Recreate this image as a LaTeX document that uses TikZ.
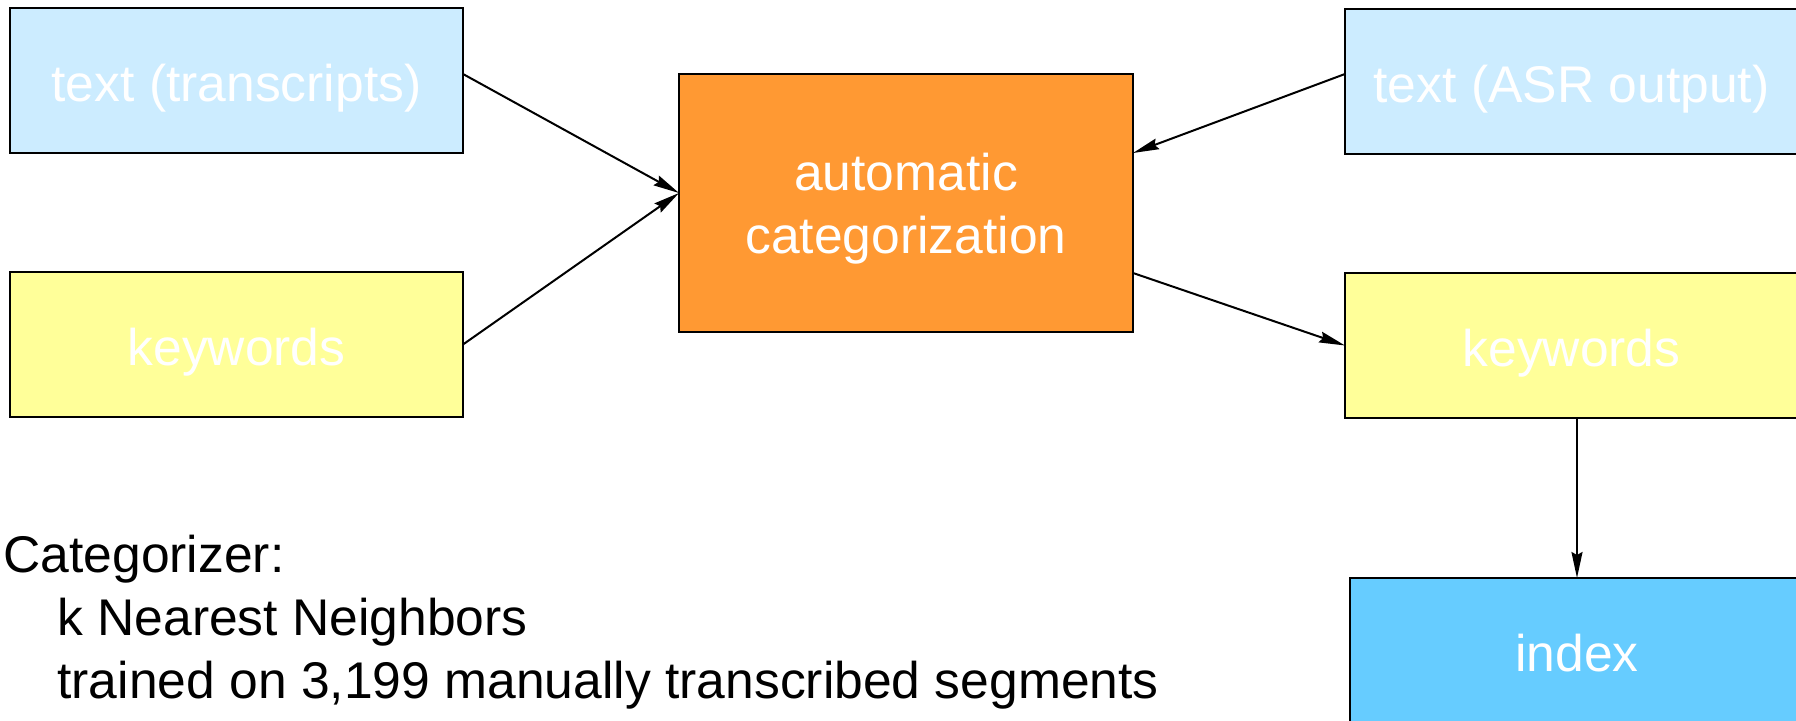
\documentclass[tikz,border=0pt]{standalone}
\usepackage{fontspec}
\setmainfont{Liberation Sans}
\usetikzlibrary{arrows.meta}
\definecolor{paleblue}{HTML}{CCECFF}
\definecolor{paleyellow}{HTML}{FFFF99}
\definecolor{boxorange}{HTML}{FF9933}
\definecolor{skyblue}{HTML}{66CCFF}
\begin{document}
\begin{tikzpicture}[x=0.5pt,y=-0.5pt,
  every node/.style={font=\fontsize{25.8pt}{31.5pt}\selectfont},
  panel/.style={draw=black, line width=0.85pt, inner sep=0pt, outer sep=0pt,
    text=white, minimum width=226.5pt, minimum height=72.5pt},
  oneline/.style={panel, text height=26pt, text depth=5pt},
  conn/.style={line width=1pt, -{Stealth[length=13pt,width=5.5pt,inset=1.5pt]}},
  note/.style={anchor=base west, inner sep=0pt, text=black}]
\useasboundingbox (0,0) rectangle (1796,721);
\fill[white] (0,0) rectangle (1796,721);
\clip (0,0) rectangle (1796,721);

% inputs on the left
\node[oneline, fill=paleblue]   (trans) at (236.5,80.5)  {text (transcripts)};
\node[oneline, fill=paleyellow] (kwin)  at (236.5,344.5) {keywords\hspace{0.278em}};

% categorizer in the middle
\node[panel, fill=boxorange, minimum width=227pt, minimum height=129.3pt,
      align=center, text depth=0pt] (cat) at (906,203) {automatic\\categorization};

% right column
\node[oneline, fill=paleblue]   (asr)   at (1571.5,81.5)  {text (ASR output)};
\node[oneline, fill=paleyellow] (kwout) at (1571.5,345.5) {keywords\hspace{0.278em}};
\node[oneline, fill=skyblue, minimum width=227pt] (idx) at (1577,650.5) {index};

% connectors
\coordinate (cin) at ([yshift=5pt]cat.west);
\draw[conn] ([yshift=3.25pt]trans.east) -- (cin);
\draw[conn] (kwin.east) -- (cin);
\draw[conn] ([yshift=3.75pt]asr.west) -- ([yshift=25pt]cat.east);
\draw[conn] ([yshift=-35pt]cat.east) -- (kwout.west);
\draw[conn] (idx.north |- kwout.south) -- (idx.north);

% notes
\node[note] (cz)  at (3,573)  {Categorizer:};
\node[note] (knn) at (57,636) {k Nearest Neighbors};
\node[note] (trn) at (57,699) {trained on 3,199 manually transcribed segments};
\end{tikzpicture}
\end{document}
